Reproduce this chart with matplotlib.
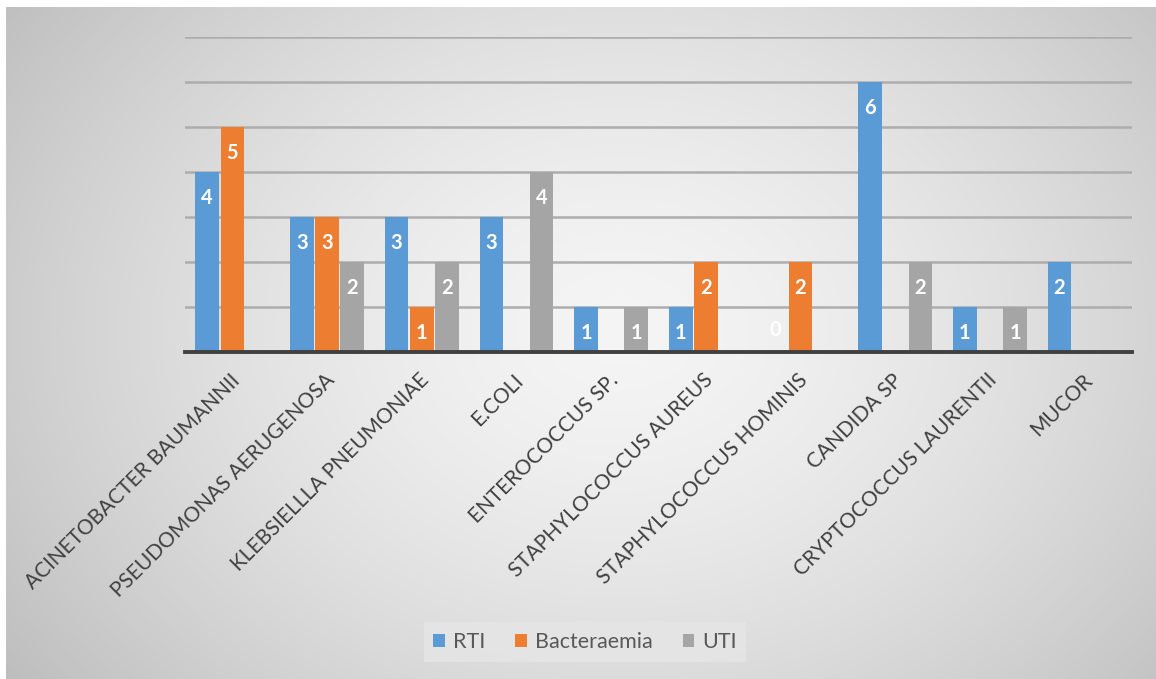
import numpy as np
import matplotlib.pyplot as plt

categories = ['ACINETOBACTER BAUMANNII', 'PSEUDOMONAS AERUGENOSA', 'KLEBSIELLLA PNEUMONIAE',
              'E.COLI', 'ENTEROCOCCUS SP.', 'STAPHYLOCOCCUS AUREUS', 'STAPHYLOCOCCUS HOMINIS',
              'CANDIDA SP', 'CRYPTOCOCCUS LAURENTII', 'MUCOR']
nan = np.nan
rti = [4, 3, 3, 3, 1, 1, 0, 6, 1, 2]
bacteraemia = [5, 3, 1, nan, nan, 2, 2, nan, nan, nan]
uti = [nan, 2, 2, 4, 1, nan, nan, 2, 1, nan]
series = [('RTI', rti, '#5b9bd5'), ('Bacteraemia', bacteraemia, '#ed7d31'), ('UTI', uti, '#a5a5a5')]

plt.rcParams['font.family'] = ['Lato', 'DejaVu Sans']

fig = plt.figure(figsize=(11.56, 6.79), dpi=100)

# background: radial gradient like the Excel chart area
bg = fig.add_axes([0, 0, 1, 1], zorder=-10)
W, H = 1156, 679
yy, xx = np.mgrid[0:H, 0:W]
r = np.sqrt(((xx - 620) / 720.0) ** 2 + ((yy - 330) / 560.0) ** 2)
shade = np.clip(0.96 - 0.2 * r ** 1.5, 0.74, 0.965)
img = np.dstack([shade, shade, shade])
img[:7, :, :] = 1.0
img[:, :6, :] = 1.0
bg.imshow(img, aspect='auto', extent=[0, W, H, 0])
bg.set_xlim(0, W)
bg.set_ylim(H, 0)
bg.axis('off')

ax = fig.add_axes([185 / W, 1 - 352 / H, (1132 - 185) / W, 315 / H])
ax.patch.set_alpha(0)
x = np.arange(len(categories))
bw = 0.25
step = 0.265
for i, (name, vals, col) in enumerate(series):
    vals = np.array(vals, dtype=float)
    pos = x + (i - 1) * step
    ax.bar(pos, vals, width=bw, color=col, label=name, zorder=3)
    for p, v in zip(pos, vals):
        if np.isnan(v):
            continue
        ly = v - 0.58 if v > 0 else 0.48
        ax.text(p, ly, '%d' % v, ha='center', va='center', color='white',
                fontsize=14.5, fontweight='bold', zorder=4)

ax.set_xlim(-0.5, len(categories) - 0.5)
ax.set_ylim(0, 7)
ax.set_yticks(range(1, 8))
ax.yaxis.grid(True, color='#adadad', linewidth=1.8, zorder=1)
ax.tick_params(axis='y', length=0, labelleft=False)
ax.tick_params(axis='x', length=0, pad=13)
for s in ['top', 'right', 'left']:
    ax.spines[s].set_visible(False)
ax.spines['bottom'].set_color('#404040')
ax.spines['bottom'].set_linewidth(2.8)
ax.spines['bottom'].set_zorder(5)
ax.set_xticks(x - 0.03)
ax.set_xticklabels(categories, rotation=45, ha='right', va='top',
                   rotation_mode='anchor', fontsize=15, color='#404040')

handles, labels = ax.get_legend_handles_labels()
leg = fig.legend(handles, labels, loc='center', bbox_to_anchor=(585 / W, 1 - 642 / H),
                 ncol=3, frameon=True, fontsize=15.5, handlelength=0.55, handleheight=0.55,
                 handletextpad=0.35, columnspacing=1.4, borderpad=0.45)
leg.get_frame().set_facecolor('#e6e6e6')
leg.get_frame().set_edgecolor('none')
leg.get_frame().set_alpha(0.8)
leg.get_frame().set_boxstyle('square', pad=0)
for t in leg.get_texts():
    t.set_color('#595959')

fig.savefig('out.png', dpi=100)
